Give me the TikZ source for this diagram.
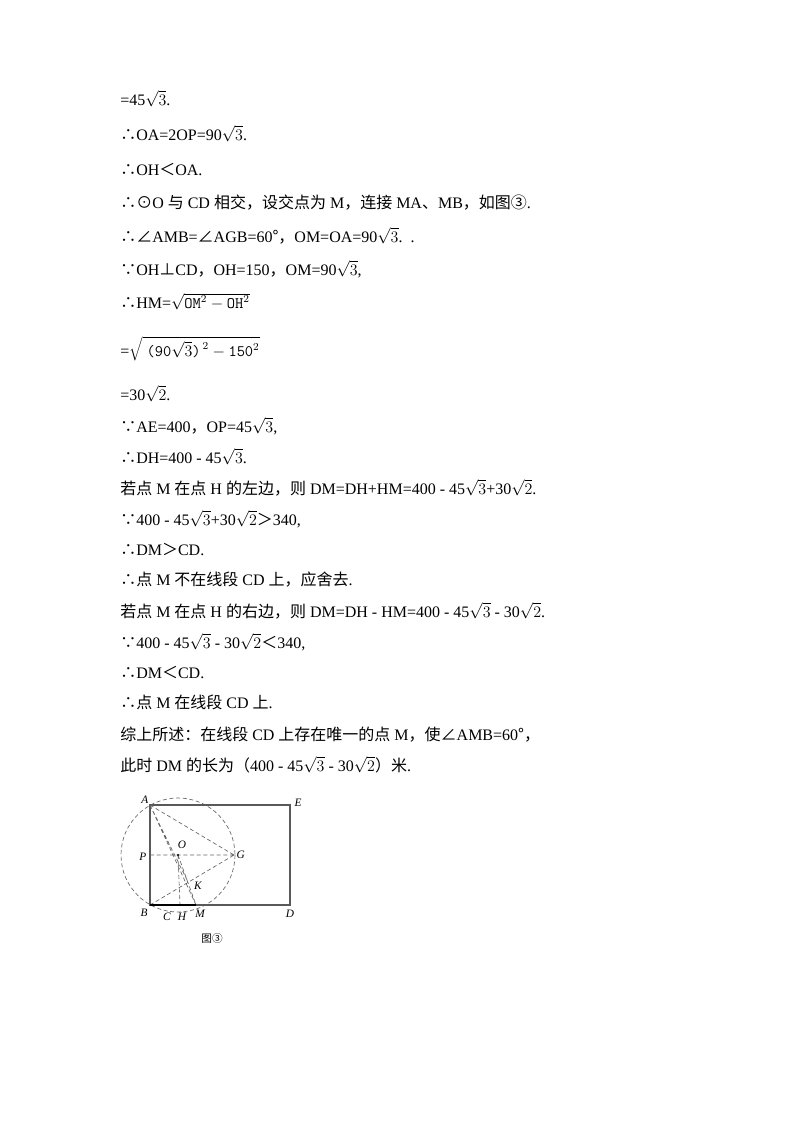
\documentclass[tikz,border=0pt]{standalone}
\usepackage{fontspec}
\setmainfont{Liberation Serif}
\newfontfamily\cjk{Noto Sans CJK SC}
\newcommand{\zh}[1]{{\cjk #1}}
\newcommand{\sq}[1]{$\sqrt{#1}$}
\begin{document}
\begin{tikzpicture}[x=0.75pt,y=-0.75pt,
  tl/.style={anchor=base west,inner sep=0pt,font=\fontsize{12}{14}\selectfont},
  lb/.style={font=\itshape\fontsize{8.5}{10}\selectfont,inner sep=1pt},
  dl/.style={densely dashed,gray!80!black,line width=0.5pt},
  sl/.style={gray!70!black,line width=1pt}]
\useasboundingbox (0,0) rectangle (800,1132);
\fill[white] (0,0) rectangle (800,1132);
\node[tl] (l1) at (120,105) {=45\sq{3}.};
\node[tl] (l2) at (120,140) {\zh{∴}OA=2OP=90\sq{3}.};
\node[tl] (l3) at (120,175) {\zh{∴}OH\zh{＜}OA.};
\node[tl] (l4) at (120,208) {\zh{∴⊙}O \zh{与} CD \zh{相交，设交点为} M\zh{，连接} MA\zh{、}MB\zh{，如图③}.};
\node[tl] (l5) at (120,242) {\zh{∴∠}AMB=\zh{∠}AGB=60\zh{°}\zh{，}OM=OA=90\sq{3}.\ \ .};
\node[tl] (l6) at (120,275) {\zh{∵}OH\zh{⊥}CD\zh{，}OH=150\zh{，}OM=90\sq{3},};
\node[tl] (l7) at (120,308) {\zh{∴}HM=$\sqrt{\texttt{OM}^2-\texttt{OH}^2}$};
\node[tl] (l8) at (120,356) {=$\sqrt{\ \texttt{(90}\sqrt{3}\texttt{)}^{\,2}-\texttt{150}^2}$};
\node[tl] (l9) at (120,400) {=30\sq{2}.};
\node[tl] (l10) at (120,432) {\zh{∵}AE=400\zh{，}OP=45\sq{3},};
\node[tl] (l11) at (120,463) {\zh{∴}DH=400 - 45\sq{3}.};
\node[tl] (l12) at (120,494) {\zh{若点} M \zh{在点} H \zh{的左边，则} DM=DH+HM=400 - 45\sq{3}+30\sq{2}.};
\node[tl] (l13) at (120,525) {\zh{∵}400 - 45\sq{3}+30\sq{2}\zh{＞}340,};
\node[tl] (l14) at (120,555) {\zh{∴}DM\zh{＞}CD.};
\node[tl] (l15) at (120,585) {\zh{∴点} M \zh{不在线段} CD \zh{上，应舍去}.};
\node[tl] (l16) at (120,617) {\zh{若点} M \zh{在点} H \zh{的右边，则} DM=DH - HM=400 - 45\sq{3} - 30\sq{2}.};
\node[tl] (l17) at (120,648) {\zh{∵}400 - 45\sq{3} - 30\sq{2}\zh{＜}340,};
\node[tl] (l18) at (120,678) {\zh{∴}DM\zh{＜}CD.};
\node[tl] (l19) at (120,708) {\zh{∴点} M \zh{在线段} CD \zh{上}.};
\node[tl] (l20) at (120,740) {\zh{综上所述：在线段} CD \zh{上存在唯一的点} M\zh{，使∠}AMB=60\zh{°，}};
\node[tl] (l21) at (120,771) {\zh{此时} DM \zh{的长为（}400 - 45\sq{3} - 30\sq{2}\zh{）米}.};
% figure
\coordinate (A) at (150,805); \coordinate (E) at (290,805);
\coordinate (B) at (150,905); \coordinate (D) at (290,905);
\coordinate (P) at (150,855); \coordinate (O) at (178,855);
\coordinate (G) at (234,855); \coordinate (K) at (188,882);
\coordinate (H) at (180,905); \coordinate (M) at (196,905);
\draw[dl] (O) circle (57);
\draw[sl] (A) -- (E) -- (D) -- (B) -- cycle;
\draw[dl] (A) -- (G) (A) -- (M) (A) -- (K) (P) -- (G) (B) -- (G) (O) -- (H) (O) -- (M);
\draw[sl,black] (B) -- (M);
\fill (O) circle (1.2);
\node[lb,anchor=south east] (nA) at (A) {A};
\node[lb,anchor=west] (nE) at (293,803) {E};
\node[lb,anchor=east] (nP) at (148,857) {P};
\node[lb] (nO) at (182,845) {O};
\node[lb,anchor=west] (nG) at (235,855) {G};
\node[lb] (nK) at (198,886) {K};
\node[lb] (nB) at (144,913) {B};
\node[lb] (nC) at (167,917) {C};
\node[lb] (nH) at (182,917) {H};
\node[lb] (nM) at (200,914) {M};
\node[lb] (nD) at (290,914) {D};
\node[inner sep=0pt,font=\cjk\fontsize{8}{9}\selectfont] (cap) at (212,938) {图③};
\end{tikzpicture}
\end{document}
